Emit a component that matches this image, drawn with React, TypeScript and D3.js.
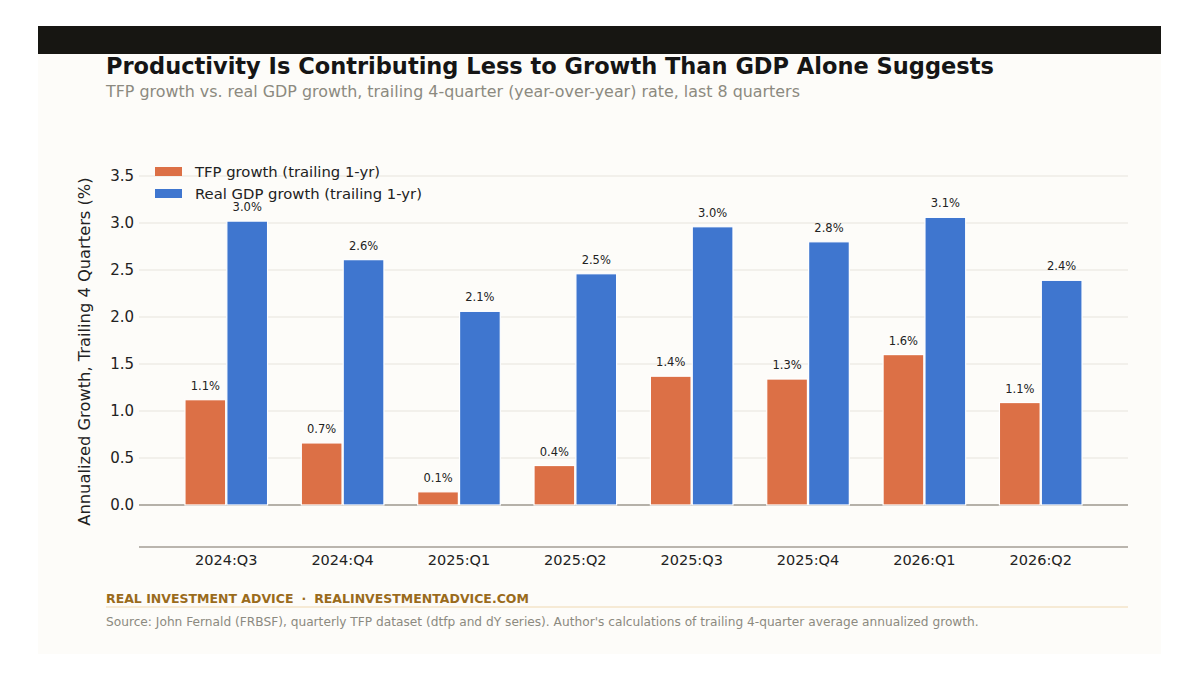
import * as d3 from 'd3'

// ── data ─────────────────────────────────────────────────────────────────────
const QUARTERS = ['2024:Q3', '2024:Q4', '2025:Q1', '2025:Q2', '2025:Q3', '2025:Q4', '2026:Q1', '2026:Q2']
const TFP      = [1.12, 0.66, 0.14, 0.42, 1.37, 1.34, 1.60, 1.09]
const GDP      = [3.02, 2.61, 2.06, 2.46, 2.96, 2.80, 3.06, 2.39]
const Y_TICKS  = [0, 0.5, 1, 1.5, 2, 2.5, 3, 3.5]
const SERIES   = [
  { key: 'tfp', label: 'TFP growth (trailing 1-yr)',      values: TFP, col: '#dc7046' },
  { key: 'gdp', label: 'Real GDP growth (trailing 1-yr)', values: GDP, col: '#3f76cf' },
]

// ── constants ────────────────────────────────────────────────────────────────
const W = 1184, H = 674
const PL = 139, PR = 1128, PB = 547
const FONT  = '"DejaVu Sans", sans-serif'
const CGRID = '#e7e4dd'
const CTXT  = '#222'
const CMUT  = '#8c8a80'

export default function App() {
  const x = d3.scaleLinear().domain([-0.75, QUARTERS.length - 0.25]).range([PL, PR])
  const y = d3.scaleLinear().domain([-0.447, 3.5]).range([PB, 176])
  const bw = x(0.35) - x(0)
  const offs = [-0.18, 0.18]

  return (
    <svg width={W} height={H} style={{ position: 'absolute', left: 0, top: 0, background: '#fff' }}
      fontFamily={FONT}>
      {/* card */}
      <rect x={38} y={26} width={1123} height={628} fill="#fdfcf9" />
      <rect x={38} y={26} width={1123} height={28} fill="#171612" />

      <text x={106} y={74} fontSize={22.5} fontWeight="bold" fill="#151515">
        Productivity Is Contributing Less to Growth Than GDP Alone Suggests
      </text>
      <text x={106} y={97} fontSize={15.9} fill={CMUT}>
        TFP growth vs. real GDP growth, trailing 4-quarter (year-over-year) rate, last 8 quarters
      </text>

      {/* grid */}
      {Y_TICKS.filter(v => v > 0).map(v => (
        <line key={v} x1={PL} x2={PR} y1={y(v)} y2={y(v)} stroke={CGRID} strokeWidth={1.2} />
      ))}
      <line x1={PL} x2={PR} y1={y(0)} y2={y(0)} stroke="#9c988e" strokeWidth={1.5} />

      {/* y ticks */}
      {Y_TICKS.map(v => (
        <text key={v} x={PL - 5} y={y(v) + 5} textAnchor="end" fontSize={15} fill={CTXT}>
          {v.toFixed(1)}
        </text>
      ))}
      <text transform={`translate(90,${(y(3.5) + PB) / 2 - 10}) rotate(-90)`} textAnchor="middle"
        fontSize={16.3} fill={CTXT}>
        Annualized Growth, Trailing 4 Quarters (%)
      </text>

      {/* bars */}
      {SERIES.map((s, si) => s.values.map((v, i) => {
        const cx = x(i + offs[si])
        return (
          <g key={s.key + i}>
            <rect x={cx - bw / 2} y={y(v)} width={bw} height={y(0) - y(v)}
              fill={s.col} stroke="#fff" strokeWidth={1.2} />
            <text x={cx} y={y(v) - 10} textAnchor="middle" fontSize={11.5} fill={CTXT}>
              {v.toFixed(1)}%
            </text>
          </g>
        )
      }))}

      {/* x axis */}
      <line x1={PL} x2={PR} y1={PB} y2={PB} stroke="#a39e94" strokeWidth={1.5} />
      {QUARTERS.map((q, i) => (
        <text key={q} x={x(i)} y={565} textAnchor="middle" fontSize={14.5} fill={CTXT}>{q}</text>
      ))}

      {/* legend */}
      {SERIES.map((s, i) => (
        <g key={s.key} transform={`translate(155,${171 + i * 22})`}>
          <rect x={0} y={-4} width={27} height={9} fill={s.col} />
          <text x={40} y={5.5} fontSize={14.8} fill={CTXT}>{s.label}</text>
        </g>
      ))}

      {/* footer */}
      <text x={106} y={603} fontSize={12.5} fontWeight="bold" fill="#9a6b1c">
        <tspan>REAL INVESTMENT ADVICE</tspan>
        <tspan dx={8}>·</tspan>
        <tspan dx={8}>REALINVESTMENTADVICE.COM</tspan>
      </text>
      <line x1={106} x2={PR} y1={607} y2={607} stroke="#f3e5c8" strokeWidth={1.5} />
      <text x={106} y={626} fontSize={12.2} fill={CMUT}>
        Source: John Fernald (FRBSF), quarterly TFP dataset (dtfp and dY series). Author's calculations of trailing 4-quarter average annualized growth.
      </text>
    </svg>
  )
}
